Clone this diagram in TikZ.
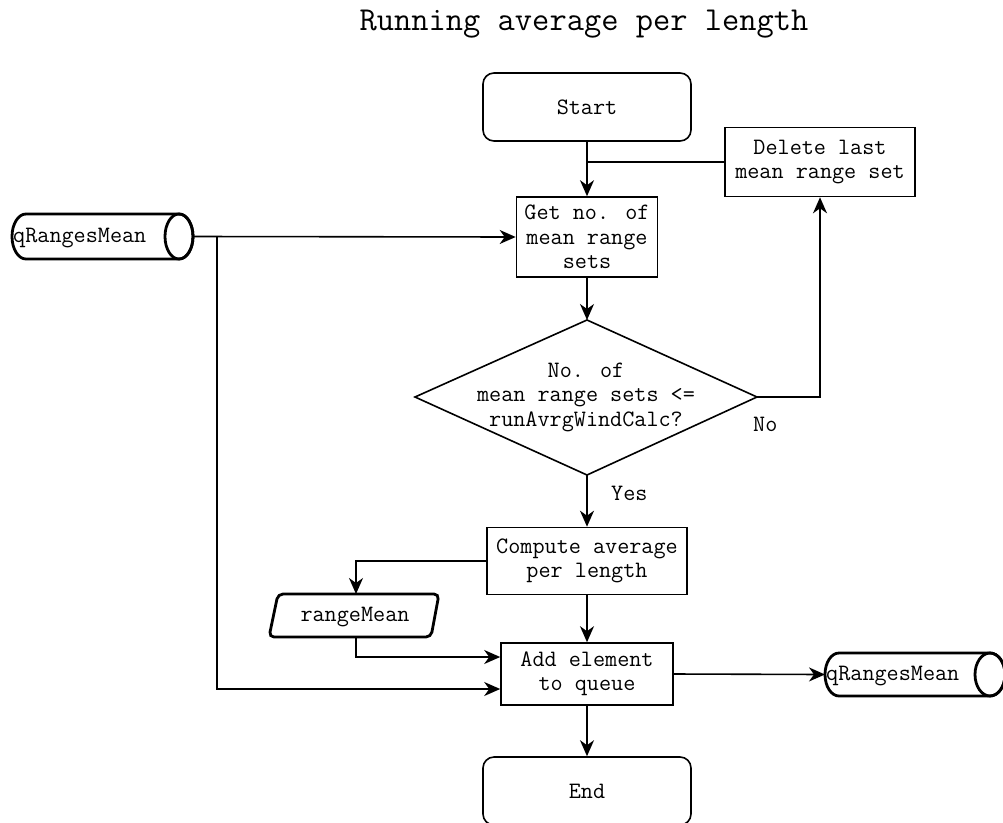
\documentclass[tikz,border=0pt]{standalone}
\usetikzlibrary{arrows.meta}
\begin{document}
\begin{tikzpicture}[x=1pt,y=-1pt,
  every node/.style={font=\ttfamily\fontsize{23.5}{24.5}\selectfont, align=center, inner sep=0pt},
  box/.style={draw, line width=1.6pt, fill=white},
  term/.style={draw, line width=1.6pt, rounded corners=11pt, fill=white},
  thickshape/.style={draw, line width=2.8pt, fill=white},
  conn/.style={line width=1.6pt},
  arr/.style={conn, -{Stealth[length=16pt,width=14pt,inset=5pt]}},
  lbl/.style={font=\ttfamily\fontsize{23.5}{24}\selectfont}]
\clip (0,0) rectangle (1003,822);
\fill[white] (0,0) rectangle (1003,822);

% title
\node[font=\ttfamily\fontsize{33.5}{36}\selectfont] (title) at (584,24) {Running average per length};

% nodes
\node[term, minimum width=208pt, minimum height=68pt] (start) at (587,107) {Start};
\node[box, minimum width=190pt, minimum height=69pt] (del) at (820,162) {Delete last\\mean range set};
\node[box, minimum width=141pt, minimum height=80pt] (get) at (587,237) {Get no. of\\mean range\\sets};

% decision
\coordinate (dT) at (587,320);
\coordinate (dR) at (757,397);
\coordinate (dB) at (587,475);
\coordinate (dL) at (415,397);
\draw[line width=1.6pt, fill=white, line join=miter] (dT) -- (dR) -- (dB) -- (dL) -- cycle;
\node (dec) at (586,397) {No. of\\mean range sets <=\\runAvrgWindCalc?};

\node[box, minimum width=200pt, minimum height=67pt] (comp) at (587,561) {Compute average\\per length};
\node[box, minimum width=172pt, minimum height=62pt] (add) at (587,674) {Add element\\to queue};
\node[term, minimum width=208pt, minimum height=68pt] (end) at (587,791) {End};

% rangeMean parallelogram
\draw[thickshape, rounded corners=5pt] (278,594) -- (439,594) -- (431,637) -- (269,637) -- cycle;
\node (rm) at (355,617) {rangeMean};
\coordinate (rmT) at (356,594);
\coordinate (rmB) at (356,637);

% left cylinder
\draw[thickshape] (26,214) -- (179,214) arc[start angle=90, end angle=-90, x radius=14pt, y radius=22.5pt]
  -- (26,259) arc[start angle=270, end angle=90, x radius=14pt, y radius=22.5pt] -- cycle;
\draw[line width=2.8pt] (179,236.5) ellipse[x radius=14pt, y radius=22.5pt];
\node[anchor=west] (qin) at (13,238) {qRangesMean};
\coordinate (qinR) at (193,236.5);
\coordinate (split) at (217,236.5);

% right cylinder
\draw[thickshape] (839,653) -- (990,653) arc[start angle=90, end angle=-90, x radius=15pt, y radius=21.5pt]
  -- (839,696) arc[start angle=270, end angle=90, x radius=14pt, y radius=21.5pt] -- cycle;
\draw[line width=2.8pt] (990,674.5) ellipse[x radius=15pt, y radius=21.5pt];
\node[anchor=west] (qout) at (826,676) {qRangesMean};
\coordinate (qoutL) at (825,674.5);

% connectors
\draw[arr] (start.south) -- (get.north);
\draw[conn] (del.west) -- (del.west -| start.south);
\draw[arr] (dR) -| (del.south);
\node[lbl, anchor=west] (no) at (753,424) {No};
\draw[arr] (get.south) -- (dT);
\draw[arr] (dB) -- (comp.north);
\node[lbl, anchor=west] (yes) at (611,493) {Yes};
\draw[arr] (comp.south) -- (add.north);
\draw[arr] (comp.west) -| (rmT);
\draw[arr] (rmB) |- ([yshift=17pt]add.west);
\draw[arr] (qinR) -- (get.west);
\draw[arr] (split) |- ([yshift=-15pt]add.west);
\draw[arr] (add.east) -- (qoutL);
\draw[arr] (add.south) -- (end.north);
\end{tikzpicture}
\end{document}
